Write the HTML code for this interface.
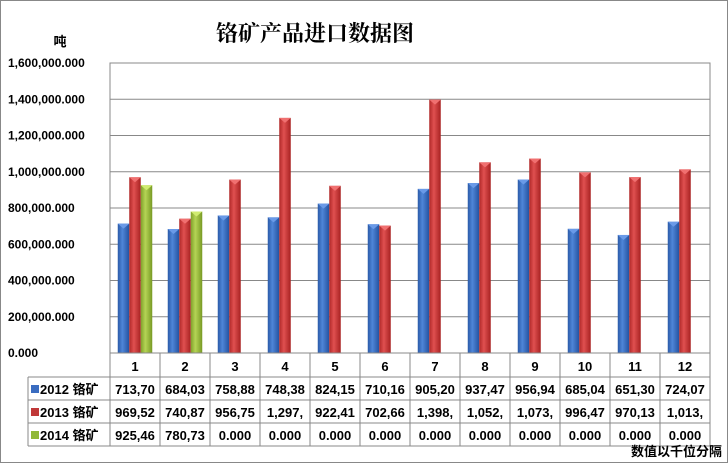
<!DOCTYPE html>
<html><head><meta charset="utf-8">
<style>
body{margin:0;background:#fff;}
svg text{font-family:"Liberation Sans","Noto Sans CJK SC",sans-serif;font-weight:bold;fill:#000;}
</style></head>
<body>
<svg id="c" width="728" height="463" xmlns="http://www.w3.org/2000/svg">
<defs>
<linearGradient id="gb" x1="0" x2="1"><stop offset="0" stop-color="#2a5aa8"/><stop offset="0.4" stop-color="#4f86d8"/><stop offset="1" stop-color="#2452a0"/></linearGradient>
<linearGradient id="gr" x1="0" x2="1"><stop offset="0" stop-color="#b02828"/><stop offset="0.4" stop-color="#e05050"/><stop offset="1" stop-color="#a82222"/></linearGradient>
<linearGradient id="gg" x1="0" x2="1"><stop offset="0" stop-color="#7fa02a"/><stop offset="0.4" stop-color="#b5d455"/><stop offset="1" stop-color="#789a25"/></linearGradient>
</defs>
<rect x="0.5" y="0.5" width="727" height="462" fill="#fff" stroke="#888"/>
<text x="315" y="41" font-size="22" text-anchor="middle" style="font-family:'Noto Serif CJK SC',serif">铬矿产品进口数据图</text>
<text x="60" y="46" font-size="13" text-anchor="middle">吨</text>
<g id="grid"></g>
<g id="bars"></g>
<g id="table"></g>
<text x="722" y="456" font-size="13" text-anchor="end">数值以千位分隔</text>
</svg>
<script>
const categories=["1","2","3","4","5","6","7","8","9","10","11","12"];
const series2012=[713700,684030,758880,748380,824150,710160,905200,937470,956940,685040,651300,724070];
const series2013=[969520,740870,956750,1297000,922410,702660,1398000,1052000,1073000,996470,970130,1013000];
const series2014=[925460,780730,0,0,0,0,0,0,0,0,0,0];
const label2012=["713,70","684,03","758,88","748,38","824,15","710,16","905,20","937,47","956,94","685,04","651,30","724,07"];
const label2013=["969,52","740,87","956,75","1,297,","922,41","702,66","1,398,","1,052,","1,073,","996,47","970,13","1,013,"];
const label2014=["925,46","780,73","0.000","0.000","0.000","0.000","0.000","0.000","0.000","0.000","0.000","0.000"];
const yTicks=[0,200000,400000,600000,800000,1000000,1200000,1400000,1600000];
const yTickLabels=["0.000","200,000.000","400,000.000","600,000.000","800,000.000","1,000,000.000","1,200,000.000","1,400,000.000","1,600,000.000"];
const seriesNames=["2012 铬矿","2013 铬矿","2014 铬矿"];

const NS="http://www.w3.org/2000/svg";
const X0=110,X1=710,Y0=353,Y1=63,YMAX=1600000;
const cw=(X1-X0)/categories.length, bw=11.5;
const y=v=>Y0-(v/YMAX)*(Y0-Y1);
const xc=i=>X0+cw*(i+0.5);
function mk(tag,attrs,parent){const e=document.createElementNS(NS,tag);for(const k in attrs)e.setAttribute(k,attrs[k]);parent.appendChild(e);return e;}
const grid=document.getElementById('grid'),bars=document.getElementById('bars'),table=document.getElementById('table');
mk('rect',{x:X0,y:Y1,width:X1-X0,height:Y0-Y1,fill:'none',stroke:'#888'},grid);
yTicks.forEach((t,i)=>{
  const l=mk('line',{x1:X0,x2:X1,y1:y(t),y2:y(t),stroke:'#888'},grid);
  
  
  const tx=mk('text',{x:8,y:y(t)+4,'font-size':12},grid);
  tx.textContent=yTickLabels[i];
  
  
});
const allSeries=[series2012,series2013,series2014],fills=['url(#gb)','url(#gr)','url(#gg)'],tops=['#6a9ae8','#f07070','#d0ec70'];
allSeries.forEach((s,si)=>{
  s.forEach((v,i)=>{
    if(v<=0)return;
    const x=xc(i)-1.5*bw+si*bw, top=y(v);
    const r=mk('rect',{x:x,y:top,width:bw,height:Y0-top,fill:fills[si]},bars);
    
    
    const p=mk('polygon',{points:`${x},${top} ${x+bw},${top} ${x+bw/2},${top+5}`,fill:tops[si]},bars);
    
    
  });
});
const rowY=[353,377,400,423,446];
mk('line',{x1:X0,x2:X1,y1:rowY[0],y2:rowY[0],stroke:'#888'},table);
for(let r=1;r<rowY.length;r++)mk('line',{x1:28,x2:X1,y1:rowY[r],y2:rowY[r],stroke:'#888'},table);
mk('line',{x1:28,x2:28,y1:rowY[1],y2:rowY[4],stroke:'#888'},table);
for(let i=0;i<=categories.length;i++)mk('line',{x1:X0+cw*i,x2:X0+cw*i,y1:rowY[0],y2:rowY[4],stroke:'#888'},table);
categories.forEach((c,i)=>{
  const t=mk('text',{x:xc(i),y:371,'font-size':13,'text-anchor':'middle'},table);
  t.textContent=c;
  
  
});
const labels=[label2012,label2013,label2014],sw=['#3a6cc0','#c03838','#90b838'];
labels.forEach((arr,si)=>{
  const ry=rowY[si+1]+17;
  const sq=mk('rect',{x:31,y:ry-9,width:8,height:8,fill:sw[si]},table);
  
  
  const n=mk('text',{x:40,y:ry,'font-size':13},table);
  n.textContent=seriesNames[si];
  
  
  arr.forEach((l,i)=>{
    const t=mk('text',{x:xc(i),y:ry,'font-size':13,'text-anchor':'middle'},table);
    t.textContent=l;
    
    
  });
});
</script>
</body></html>
